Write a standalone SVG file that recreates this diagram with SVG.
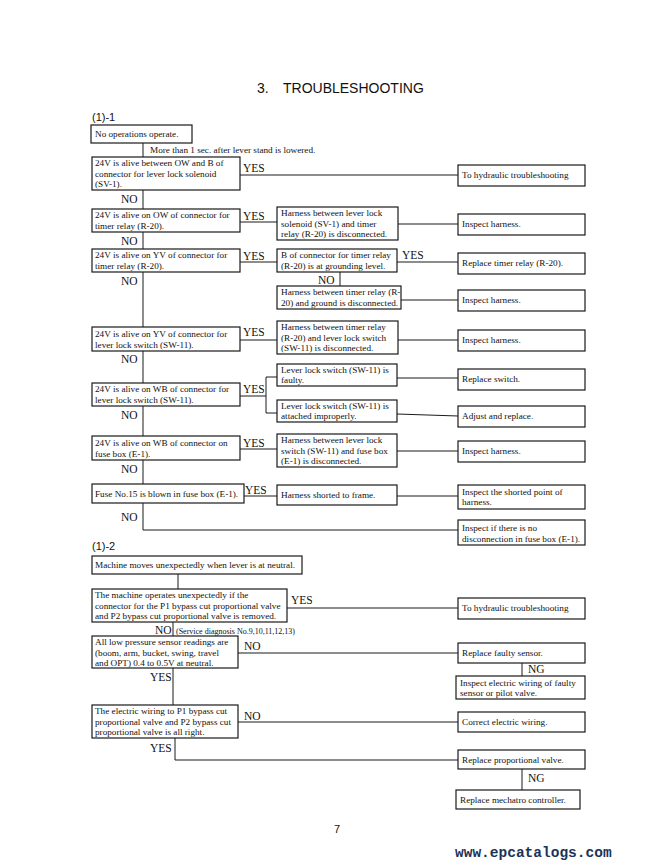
<svg xmlns="http://www.w3.org/2000/svg" width="667" height="868" viewBox="0 0 667 868">
<style>
.bg{fill:#ffffff}
.box{fill:#ffffff;stroke:#1a1a1a;stroke-width:1.2}
.ln{fill:none;stroke:#1a1a1a;stroke-width:1}
.t{font-family:"Liberation Serif","Times New Roman",serif;font-size:9.2px;fill:#111}
.yn{font-family:"Liberation Serif","Times New Roman",serif;font-size:11.5px;fill:#111}
.sm{font-family:"Liberation Serif","Times New Roman",serif;font-size:8px;fill:#111}
.hd{font-family:"Liberation Sans",Arial,sans-serif;font-size:11px;fill:#111}
.title{font-family:"Liberation Sans",Arial,sans-serif;font-size:14px;fill:#111}
.wm{font-family:"Liberation Mono","Courier New",monospace;font-size:14.5px;font-weight:bold;fill:#1c3358}
</style>
<rect class="bg" x="0" y="0" width="667" height="868"/>
<text class="title" x="257" y="93">3.</text>
<text class="title" x="283" y="93">TROUBLESHOOTING</text>
<text class="hd" x="92" y="121">(1)-1</text>
<text class="hd" x="92" y="550">(1)-2</text>

<g id="connectors">
<polyline class="ln" points="143,143 143,530 458,530"/>
<line class="ln" x1="240" y1="175" x2="458" y2="175"/>
<line class="ln" x1="240" y1="222" x2="277" y2="222"/>
<line class="ln" x1="398" y1="224" x2="458" y2="224"/>
<line class="ln" x1="240" y1="262" x2="277" y2="262"/>
<line class="ln" x1="397" y1="262" x2="458" y2="262"/>
<line class="ln" x1="340" y1="272" x2="340" y2="286"/>
<line class="ln" x1="401" y1="300" x2="458" y2="300"/>
<line class="ln" x1="240" y1="340" x2="277" y2="340"/>
<line class="ln" x1="398" y1="340" x2="458" y2="340"/>
<polyline class="ln" points="240,396 266,396"/>
<polyline class="ln" points="277,377 266,377 266,413 277,413"/>
<line class="ln" x1="397" y1="378" x2="458" y2="378"/>
<line class="ln" x1="397" y1="414" x2="458" y2="416"/>
<line class="ln" x1="240" y1="449" x2="277" y2="449"/>
<line class="ln" x1="397" y1="451" x2="458" y2="451"/>
<line class="ln" x1="244" y1="496" x2="277" y2="496"/>
<line class="ln" x1="397" y1="496" x2="458" y2="496"/>
<line class="ln" x1="178" y1="574" x2="178" y2="589"/>
<line class="ln" x1="287" y1="608" x2="458" y2="608"/>
<line class="ln" x1="173" y1="622" x2="173" y2="636"/>
<line class="ln" x1="238" y1="653" x2="458" y2="653"/>
<line class="ln" x1="522" y1="663" x2="522" y2="676"/>
<line class="ln" x1="173" y1="668" x2="173" y2="705"/>
<line class="ln" x1="238" y1="722" x2="458" y2="722"/>
<polyline class="ln" points="175,738 175,760 458,760"/>
<line class="ln" x1="522" y1="769" x2="522" y2="790"/>
</g>

<g id="labels">
<text class="t" x="150" y="153">More than 1 sec. after lever stand is lowered.</text>
<text class="yn" x="243" y="172">YES</text>
<text class="yn" x="121" y="203">NO</text>
<text class="yn" x="243" y="220">YES</text>
<text class="yn" x="121" y="245">NO</text>
<text class="yn" x="243" y="260">YES</text>
<text class="yn" x="402" y="259">YES</text>
<text class="yn" x="318" y="284">NO</text>
<text class="yn" x="121" y="285">NO</text>
<text class="yn" x="243" y="336">YES</text>
<text class="yn" x="121" y="363">NO</text>
<text class="yn" x="243" y="393">YES</text>
<text class="yn" x="121" y="419">NO</text>
<text class="yn" x="243" y="447">YES</text>
<text class="yn" x="121" y="473">NO</text>
<text class="yn" x="245" y="494">YES</text>
<text class="yn" x="121" y="521">NO</text>
<text class="yn" x="291" y="604">YES</text>
<text class="yn" x="155" y="634">NO</text>
<text class="sm" x="176" y="634">(Service diagnosis No.9,10,11,12,13)</text>
<text class="yn" x="244" y="650">NO</text>
<text class="yn" x="528" y="673">NG</text>
<text class="yn" x="150" y="681">YES</text>
<text class="yn" x="244" y="720">NO</text>
<text class="yn" x="150" y="752">YES</text>
<text class="yn" x="528" y="782">NG</text>
</g>

<g id="b1"><rect class="box" x="91" y="125" width="101" height="18"/><text class="t" x="95" y="137">No operations operate.</text></g>
<g id="b2"><rect class="box" x="92" y="157" width="148" height="33"/><text class="t" x="95" y="166">24V is alive between OW and B of</text><text class="t" x="95" y="177">connector for lever lock solenoid</text><text class="t" x="95" y="187">(SV-1).</text></g>
<g id="b3"><rect class="box" x="92" y="209" width="148" height="23"/><text class="t" x="95" y="218">24V is alive on OW of connector for</text><text class="t" x="95" y="229">timer relay (R-20).</text></g>
<g id="b4"><rect class="box" x="92" y="249" width="148" height="23"/><text class="t" x="95" y="258">24V is alive on YV of connector for</text><text class="t" x="95" y="269">timer relay (R-20).</text></g>
<g id="b5"><rect class="box" x="92" y="327" width="148" height="24"/><text class="t" x="95" y="337">24V is alive on YV of connector for</text><text class="t" x="95" y="348">lever lock switch (SW-11).</text></g>
<g id="b6"><rect class="box" x="92" y="383" width="148" height="23"/><text class="t" x="95" y="392">24V is alive on WB of connector for</text><text class="t" x="95" y="403">lever lock switch (SW-11).</text></g>
<g id="b7"><rect class="box" x="92" y="436" width="148" height="24"/><text class="t" x="95" y="446">24V is alive on WB of connector on</text><text class="t" x="95" y="457">fuse box (E-1).</text></g>
<g id="b8"><rect class="box" x="92" y="484" width="152" height="19"/><text class="t" x="95" y="497">Fuse No.15 is blown in fuse box (E-1).</text></g>

<g id="m1"><rect class="box" x="277" y="207" width="121" height="33"/><text class="t" x="281" y="216">Harness between lever lock</text><text class="t" x="281" y="227">solenoid (SV-1) and timer</text><text class="t" x="281" y="237">relay (R-20) is disconnected.</text></g>
<g id="m2"><rect class="box" x="277" y="249" width="120" height="23"/><text class="t" x="281" y="258">B of connector for timer relay</text><text class="t" x="281" y="269">(R-20) is at grounding level.</text></g>
<g id="m3"><rect class="box" x="277" y="286" width="124" height="23"/><text class="t" x="281" y="295">Harness between timer relay (R-</text><text class="t" x="281" y="306">20) and ground is disconnected.</text></g>
<g id="m4"><rect class="box" x="277" y="321" width="121" height="33"/><text class="t" x="281" y="330">Harness between timer relay</text><text class="t" x="281" y="341">(R-20) and lever lock switch</text><text class="t" x="281" y="351">(SW-11) is disconnected.</text></g>
<g id="m5"><rect class="box" x="277" y="364" width="120" height="22"/><text class="t" x="281" y="373">Lever lock switch (SW-11) is</text><text class="t" x="281" y="383">faulty.</text></g>
<g id="m6"><rect class="box" x="277" y="400" width="120" height="22"/><text class="t" x="281" y="409">Lever lock switch (SW-11) is</text><text class="t" x="281" y="419">attached improperly.</text></g>
<g id="m7"><rect class="box" x="277" y="434" width="120" height="33"/><text class="t" x="281" y="443">Harness between lever lock</text><text class="t" x="281" y="454">switch (SW-11) and fuse box</text><text class="t" x="281" y="464">(E-1) is disconnected.</text></g>
<g id="m8"><rect class="box" x="277" y="485" width="120" height="20"/><text class="t" x="281" y="498">Harness shorted to frame.</text></g>

<g id="r1"><rect class="box" x="458" y="165" width="127" height="21"/><text class="t" x="462" y="178">To hydraulic troubleshooting</text></g>
<g id="r2"><rect class="box" x="458" y="214" width="127" height="21"/><text class="t" x="462" y="227">Inspect harness.</text></g>
<g id="r3"><rect class="box" x="458" y="253" width="127" height="21"/><text class="t" x="462" y="266">Replace timer relay (R-20).</text></g>
<g id="r4"><rect class="box" x="458" y="290" width="127" height="21"/><text class="t" x="462" y="303">Inspect harness.</text></g>
<g id="r5"><rect class="box" x="458" y="330" width="127" height="21"/><text class="t" x="462" y="343">Inspect harness.</text></g>
<g id="r6"><rect class="box" x="458" y="369" width="127" height="21"/><text class="t" x="462" y="382">Replace switch.</text></g>
<g id="r7"><rect class="box" x="458" y="406" width="127" height="21"/><text class="t" x="462" y="419">Adjust and replace.</text></g>
<g id="r8"><rect class="box" x="458" y="441" width="127" height="21"/><text class="t" x="462" y="454">Inspect harness.</text></g>
<g id="r9"><rect class="box" x="458" y="485" width="127" height="24"/><text class="t" x="462" y="495">Inspect the shorted point of</text><text class="t" x="462" y="505">harness.</text></g>
<g id="r10"><rect class="box" x="458" y="520" width="127" height="25"/><text class="t" x="462" y="531">Inspect if there is no</text><text class="t" x="462" y="542">disconnection in fuse box (E-1).</text></g>

<g id="c1"><rect class="box" x="92" y="556" width="210" height="18"/><text class="t" x="95" y="568">Machine moves unexpectedly when lever is at neutral.</text></g>
<g id="c2"><rect class="box" x="92" y="589" width="195" height="33"/><text class="t" x="95" y="598">The machine operates unexpectedly if the</text><text class="t" x="95" y="609">connector for the P1 bypass cut proportional valve</text><text class="t" x="95" y="619">and P2 bypass cut proportional valve is removed.</text></g>
<g id="c3"><rect class="box" x="92" y="636" width="146" height="32"/><text class="t" x="95" y="645">All low pressure sensor readings are</text><text class="t" x="95" y="656">(boom, arm, bucket, swing, travel</text><text class="t" x="95" y="666">and OPT) 0.4 to 0.5V at neutral.</text></g>
<g id="c4"><rect class="box" x="92" y="705" width="146" height="33"/><text class="t" x="95" y="714">The electric wiring to P1 bypass cut</text><text class="t" x="95" y="725">proportional valve and P2 bypass cut</text><text class="t" x="95" y="735">proportional valve is all right.</text></g>

<g id="r11"><rect class="box" x="458" y="598" width="127" height="21"/><text class="t" x="462" y="611">To hydraulic troubleshooting</text></g>
<g id="r12"><rect class="box" x="458" y="643" width="127" height="20"/><text class="t" x="462" y="656">Replace faulty sensor.</text></g>
<g id="r13"><rect class="box" x="456" y="676" width="129" height="23"/><text class="t" x="460" y="686">Inspect electric wiring of faulty</text><text class="t" x="460" y="696">sensor or pilot valve.</text></g>
<g id="r14"><rect class="box" x="458" y="712" width="127" height="20"/><text class="t" x="462" y="725">Correct electric wiring.</text></g>
<g id="r15"><rect class="box" x="458" y="750" width="127" height="19"/><text class="t" x="462" y="763">Replace proportional valve.</text></g>
<g id="r16"><rect class="box" x="456" y="790" width="124" height="19"/><text class="t" x="460" y="803">Replace mechatro controller.</text></g>

<text class="hd" x="334" y="833">7</text>
<text class="wm" x="455" y="857">www.epcatalogs.com</text>
</svg>
